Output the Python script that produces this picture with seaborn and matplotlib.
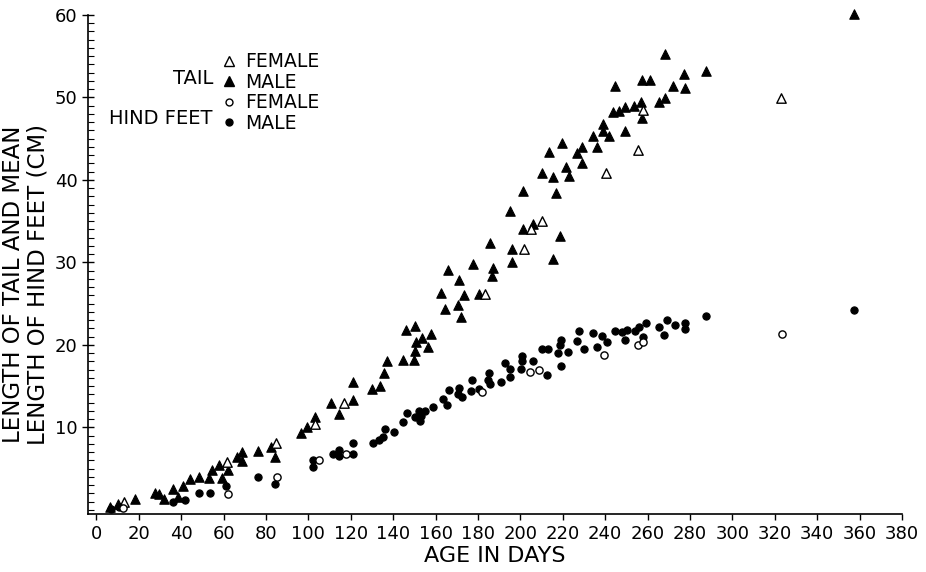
#!/usr/bin/env python3
"""
Growth of tail and hind feet with age, by sex (scanned figure redraw).
"""
import numpy as np
import pandas as pd
import matplotlib
matplotlib.use("Agg")
import matplotlib.pyplot as plt
from matplotlib.lines import Line2D
from matplotlib.ticker import MultipleLocator
import seaborn as sns

# Tail, males (filled triangles): age in days, length in cm
tail_male_age = [6.5, 10.0, 18.4, 27.4, 29.7, 32.1, 36.0, 38.7, 41.0, 43.9,
                 48.3, 53.3, 54.4, 57.7, 59.3, 61.9, 66.2, 68.7, 68.7, 76.1,
                 82.4, 84.0, 96.6, 99.4, 103.0, 110.7, 114.3, 120.9, 121.2, 129.9,
                 134.0, 135.8, 136.9, 144.5, 149.9, 150.3, 150.8, 153.4, 156.3, 157.9,
                 146.1, 150.3, 164.6, 170.6, 172.2, 162.6, 173.6, 180.3, 171.2, 165.7,
                 177.8, 186.7, 186.9, 185.8, 195.9, 196.2, 215.2, 218.5, 201.1, 206.1,
                 195.3, 201.4, 216.8, 210.2, 215.2, 223.1, 221.6, 228.9, 213.7, 219.7,
                 226.7, 228.9, 236.0, 234.1, 238.8, 239.2, 242.0, 249.4, 243.5, 246.7,
                 249.5, 253.4, 256.9, 257.4, 265.2, 268.1, 244.8, 257.4, 261.2, 272.2,
                 277.8, 277.4, 287.6, 268.2, 357.4]
tail_male_len = [0.3, 0.7, 1.3, 2.0, 1.9, 1.3, 2.5, 1.6, 2.9, 3.7,
                 4.0, 3.9, 4.8, 5.4, 3.9, 4.8, 6.4, 7.0, 5.9, 7.1,
                 7.6, 6.4, 9.3, 10.0, 11.3, 12.9, 11.6, 13.3, 15.5, 14.7,
                 15.0, 16.6, 18.0, 18.2, 18.2, 19.3, 20.4, 20.8, 19.8, 21.3,
                 21.8, 22.3, 24.4, 24.8, 23.4, 26.3, 26.1, 26.2, 27.9, 29.1,
                 29.8, 28.4, 29.3, 32.4, 30.1, 31.6, 30.4, 33.2, 34.1, 34.7,
                 36.2, 38.6, 38.4, 40.8, 40.4, 40.5, 41.6, 42.0, 43.4, 44.5,
                 43.3, 44.0, 44.0, 45.3, 45.9, 46.8, 45.3, 45.9, 48.2, 48.4,
                 48.8, 49.0, 49.5, 47.5, 49.4, 49.9, 51.4, 52.1, 52.1, 51.4,
                 51.2, 52.8, 53.2, 55.3, 60.1]

# Tail, females (open triangles)
tail_female_age = [12.9, 61.6, 84.8, 103.0, 117.0, 183.5, 201.9, 205.0,
                   210.0, 240.4, 255.3, 257.7, 323.1]
tail_female_len = [1.0, 5.8, 8.1, 10.4, 12.9, 26.2, 31.6, 34.1,
                   35.0, 40.8, 43.6, 48.5, 49.9]

# Hind feet, males (filled circles)
feet_male_age = [6.9, 10.5, 36.0, 42.0, 48.3, 53.8, 61.2, 76.1, 84.0, 102.0,
                 102.0, 111.5, 114.6, 114.6, 120.9, 120.9, 130.3, 133.2, 135.4, 136.3,
                 140.2, 144.5, 146.4, 150.5, 152.0, 152.7, 153.2, 155.2, 158.6, 163.7,
                 165.2, 166.5, 170.9, 170.4, 172.3, 176.7, 177.0, 180.7, 185.4, 184.9,
                 185.7, 190.9, 192.8, 195.1, 195.1, 200.6, 200.8, 200.3, 205.8, 210.2,
                 212.9, 212.6, 217.6, 218.7, 219.3, 219.3, 222.6, 226.6, 227.8, 230.2,
                 234.4, 236.0, 238.4, 240.9, 244.7, 247.8, 250.3, 249.5, 254.1, 256.1,
                 257.7, 259.4, 265.6, 267.9, 269.2, 273.1, 277.8, 277.8, 287.6, 357.4]
feet_male_len = [0.1, 0.4, 0.9, 1.2, 2.0, 2.0, 2.9, 4.0, 3.1, 6.1,
                 5.2, 6.8, 7.3, 6.5, 6.8, 8.1, 8.1, 8.5, 8.8, 9.8,
                 9.5, 10.6, 11.7, 11.2, 12.0, 10.8, 11.4, 12.0, 12.5, 13.5,
                 12.7, 14.5, 14.8, 14.0, 13.7, 14.4, 15.8, 14.7, 16.6, 15.7,
                 15.3, 15.5, 17.8, 17.1, 16.1, 18.7, 18.1, 17.1, 18.1, 19.5,
                 19.5, 16.4, 19.0, 20.0, 20.6, 17.4, 19.1, 20.5, 21.7, 19.5,
                 21.4, 19.8, 21.1, 20.4, 21.7, 21.6, 21.8, 20.6, 21.7, 22.2,
                 21.0, 22.7, 22.2, 21.2, 23.0, 22.4, 22.7, 21.9, 23.5, 24.2]

# Hind feet, females (open circles)
feet_female_age = [12.4, 61.9, 85.2, 105.2, 117.8, 181.9, 204.7, 209.0,
                   239.3, 255.3, 258.0, 323.3]
feet_female_len = [0.2, 1.9, 4.0, 6.0, 6.8, 14.3, 16.7, 17.0,
                   18.8, 20.0, 20.4, 21.3]

x_ticks = list(range(0, 381, 20))
y_ticks = [10, 20, 30, 40, 50, 60]

sns.set_style("ticks")
plt.rcParams['font.family'] = ['DejaVu Sans']
plt.rcParams['text.color'] = 'black'
plt.rcParams['axes.labelcolor'] = 'black'
plt.rcParams['xtick.color'] = 'black'
plt.rcParams['ytick.color'] = 'black'

fig = plt.figure(figsize=(9.26, 5.72), dpi=100)
ax = fig.add_axes([0.095, 0.1014, 0.879, 0.8724])

groups = [
    (tail_male_age, tail_male_len, '^', 'black', 46, 0.8),
    (tail_female_age, tail_female_len, '^', 'white', 46, 1.0),
    (feet_male_age, feet_male_len, 'o', 'black', 27, 0.8),
    (feet_female_age, feet_female_len, 'o', 'white', 27, 1.0),
]
for ages, lens, marker, face, size, lw in groups:
    df = pd.DataFrame({'age': ages, 'length': lens})
    sns.scatterplot(data=df, x='age', y='length', marker=marker, s=size,
                    color=face, edgecolor='black', linewidth=lw,
                    ax=ax, legend=False, clip_on=False, zorder=3)

ax.set_xlim(-4, 380)
ax.set_ylim(-0.5, 60)
ax.set_xticks(x_ticks)
ax.set_yticks(y_ticks)
ax.yaxis.set_minor_locator(MultipleLocator(1))
ax.tick_params(axis='x', which='major', direction='out', length=4, width=1,
               labelsize=13, pad=4, colors='black')
ax.tick_params(axis='y', which='major', direction='inout', length=9, width=1,
               labelsize=13, pad=3, colors='black')
ax.tick_params(axis='y', which='minor', direction='in', length=4, width=0.8,
               colors='black')
sns.despine(ax=ax)
for side in ['left', 'bottom']:
    ax.spines[side].set_linewidth(1.2)
    ax.spines[side].set_color('black')

ax.set_xlabel("AGE IN DAYS", fontsize=16, labelpad=2, color='black')
ax.set_ylabel("LENGTH OF TAIL AND MEAN\nLENGTH OF HIND FEET (CM)",
              fontsize=16.5, linespacing=1.1, color='black')
ax.yaxis.set_label_coords(-0.047, 0.46)

# key in the upper left, grouped by body part
handles = [
    Line2D([], [], marker='^', linestyle='', markersize=7, markerfacecolor='white',
           markeredgecolor='black', markeredgewidth=1.0),
    Line2D([], [], marker='^', linestyle='', markersize=7, markerfacecolor='black',
           markeredgecolor='black'),
    Line2D([], [], marker='o', linestyle='', markersize=5, markerfacecolor='white',
           markeredgecolor='black', markeredgewidth=1.0),
    Line2D([], [], marker='o', linestyle='', markersize=5, markerfacecolor='black',
           markeredgecolor='black'),
]
leg = ax.legend(handles, ['FEMALE', 'MALE', 'FEMALE', 'MALE'], loc='upper left',
                bbox_to_anchor=(0.162, 0.925), frameon=False, fontsize=13.5,
                handlelength=1.0, handletextpad=0.35, labelspacing=0.08,
                borderpad=0, borderaxespad=0)
for t in leg.get_texts():
    t.set_color('black')
ax.text(0.1536, 0.872, "TAIL", transform=ax.transAxes, fontsize=14,
        ha='right', va='center', color='black')
ax.text(0.1536, 0.792, "HIND FEET", transform=ax.transAxes, fontsize=14,
        ha='right', va='center', color='black')

fig.savefig("out.png", dpi=100, facecolor='white')
